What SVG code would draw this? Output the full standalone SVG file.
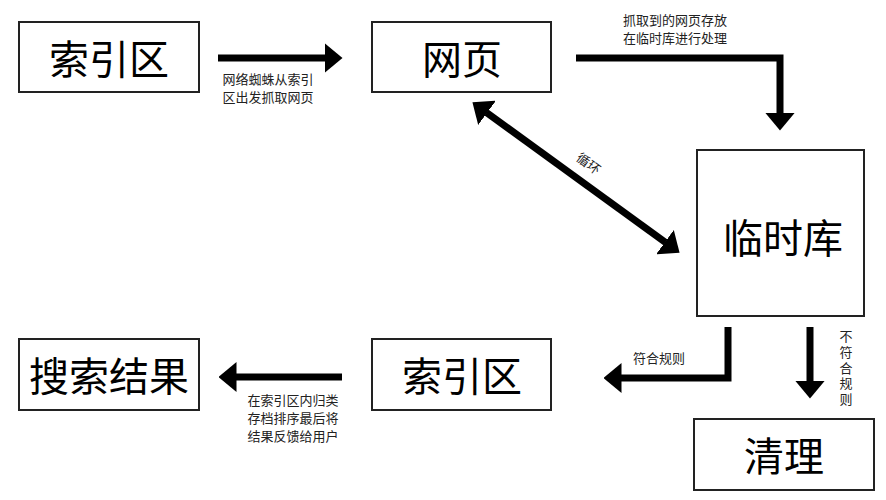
<svg xmlns="http://www.w3.org/2000/svg" width="886" height="500" viewBox="0 0 886 500">
<style>
.box{fill:#fff;stroke:#222;stroke-width:2}
.big{font-family:"Noto Sans CJK SC","Noto Sans",sans-serif;font-size:40px;fill:#000;text-anchor:middle;dominant-baseline:central}
.lbl{font-family:"Noto Sans CJK SC","Noto Sans",sans-serif;font-size:13px;fill:#222}
.conn{fill:none;stroke:#000;stroke-width:7;stroke-linejoin:miter;stroke-linecap:butt}
</style>
<defs>
<marker id="ah" viewBox="0 0 18 30" refX="0.5" refY="15" markerWidth="18" markerHeight="30" markerUnits="userSpaceOnUse" orient="auto-start-reverse">
<path d="M0,0 L18,15 L0,30 z" fill="#000"/>
</marker>
</defs>
<rect width="886" height="500" fill="#fff"/>
<g id="n1"><rect class="box" x="19" y="22" width="180" height="70"/><text class="big" x="109" y="57">索引区</text></g>
<g id="n2"><rect class="box" x="372" y="22" width="179" height="70"/><text class="big" x="462" y="57">网页</text></g>
<g id="n3"><rect class="box" x="697" y="150" width="167" height="166"/><text class="big" x="783" y="236">临时库</text></g>
<g id="n4"><rect class="box" x="372" y="339" width="179" height="71"/><text class="big" x="462" y="374">索引区</text></g>
<g id="n5"><rect class="box" x="19" y="339" width="180" height="71"/><text class="big" x="109" y="374">搜索结果</text></g>
<g id="n6"><rect class="box" x="694" y="419" width="180" height="71"/><text class="big" x="784" y="454">清理</text></g>
<g id="connectors">
<path class="conn" d="M218,58 H325" marker-end="url(#ah)"/>
<path class="conn" d="M576,58 H780 V113" marker-end="url(#ah)"/>
<path class="conn" d="M486.6,112.6 L665.4,242.4" marker-start="url(#ah)" marker-end="url(#ah)"/>
<path class="conn" d="M728,327 V378 H621" marker-end="url(#ah)"/>
<path class="conn" d="M810,327 V381" marker-end="url(#ah)"/>
<path class="conn" d="M342,377 H236" marker-end="url(#ah)"/>
<text class="lbl" x="268" y="84" text-anchor="middle">网络蜘蛛从索引<tspan x="268" dy="18">区出发抓取网页</tspan></text>
<text class="lbl" x="675" y="25" text-anchor="middle">抓取到的网页存放<tspan x="675" dy="18">在临时库进行处理</tspan></text>
<text class="lbl" x="0" y="0" font-size="12" text-anchor="middle" dominant-baseline="central" transform="translate(589,163) rotate(36)">循环</text>
<text class="lbl" x="659" y="363" text-anchor="middle">符合规则</text>
<text class="lbl" x="846" y="330" writing-mode="vertical-rl" letter-spacing="2.6">不符合规则</text>
<text class="lbl" x="293" y="404.5" text-anchor="middle">在索引区内归类<tspan x="293" dy="18">存档排序最后将</tspan><tspan x="293" dy="18">结果反馈给用户</tspan></text>
</g>
</svg>
